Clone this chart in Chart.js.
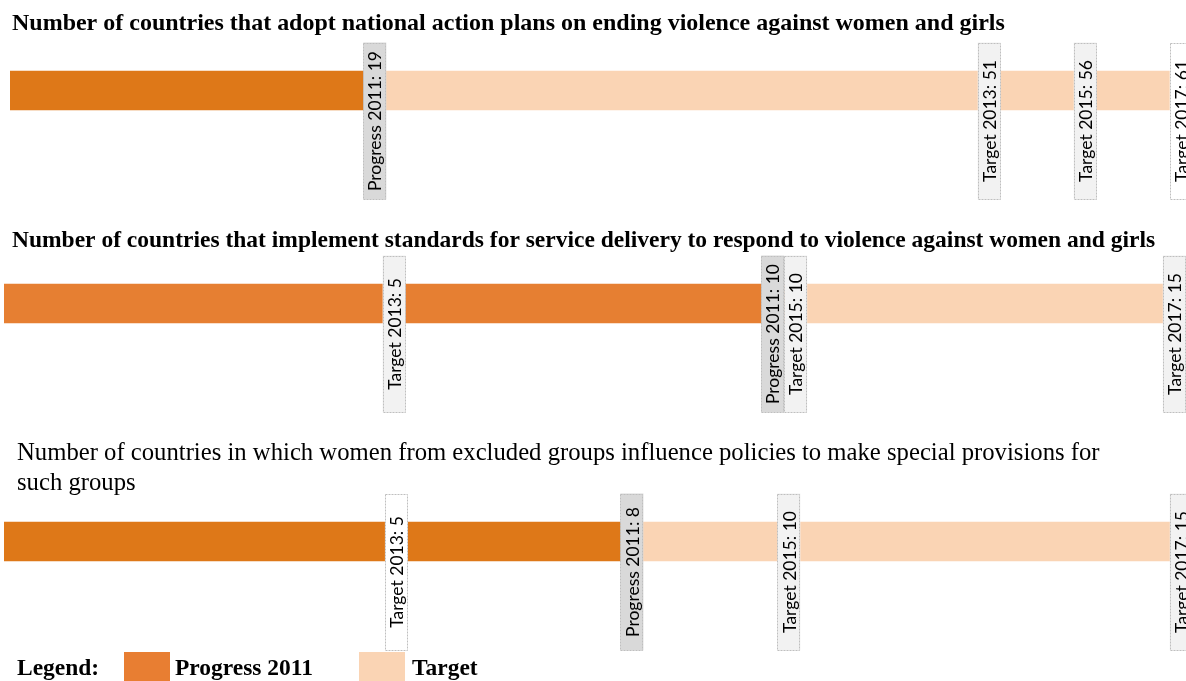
<!DOCTYPE html>
<html><head><meta charset="utf-8">
<script src="https://cdn.jsdelivr.net/npm/chart.js@4/dist/chart.umd.min.js"></script>
<style>
html,body{margin:0;padding:0;background:#fff;width:1186px;height:681px;overflow:hidden;position:relative}
canvas{position:absolute;left:0;display:block}
</style></head><body>
<canvas id="c1" width="1186" height="215" style="top:0"></canvas>
<canvas id="c2" width="1186" height="215" style="top:215px"></canvas>
<canvas id="c3" width="1186" height="251" style="top:430px"></canvas>
<script>
// ---------- DATA ----------
const title1 = ['Number of countries that adopt national action plans on ending violence against women and girls'];
const title2 = ['Number of countries that implement standards for service delivery to respond to violence against women and girls'];
const title3 = ['Number of countries in which women from excluded groups influence policies to make special provisions for', 'such groups'];
const progressLabel = 'Progress 2011';
const targetLabel = 'Target';
const targetYears = ['2013', '2015', '2017'];
const progressValues = [19, 10, 8];
const targets1 = [51, 56, 61];
const targets2 = [5, 10, 15];
const targets3 = [5, 10, 15];
const legendTitle = 'Legend:';

// ---------- STYLE ----------
const SERIF = '"Liberation Serif", serif';
const SANS = 'Lato, "Liberation Sans", sans-serif';
const peach = '#FAD4B4';
const panels = [
  {id:'c1', titles:title1, targets:targets1, progress:progressValues[0], xMax:61.25, padL:10, padT:60, padB:94,
   titleX:12, baselines:[30], titleW:[993], weight:'bold', orange:'#DE7818', boxOff:-48,
   targetFills:['#F2F2F2','#F2F2F2','#FFFFFF']},
  {id:'c2', titles:title2, targets:targets2, progress:progressValues[1], xMax:15.15, padL:4, padT:60, padB:98,
   titleX:12, baselines:[32], titleW:[1143], weight:'bold', orange:'#E67F32', boxOff:-48,
   targetFills:['#F2F2F2','#F2F2F2','#F2F2F2']},
  {id:'c3', titles:title3, targets:targets3, progress:progressValues[2], xMax:15.06, padL:4, padT:80, padB:108,
   titleX:17, baselines:[30,60], titleW:[1083], weight:'normal', orange:'#DE7818', boxOff:-48,
   targetFills:['#FFFFFF','#F2F2F2','#F2F2F2'], legend:true}
];

const mctx = document.createElement('canvas').getContext('2d');
function fitSize(text, weight, family, width){
  mctx.font = weight + ' 100px ' + family;
  return 100 * width / mctx.measureText(text).width;
}
const labelSize = fitSize('Progress 2011: 19', 'normal', SANS, 140);
const legendSize = fitSize(progressLabel, 'bold', SERIF, 138);

const panelPlugin = {
  id: 'panel',
  afterDatasetsDraw(chart, args, o){
    const ctx = chart.ctx;
    const xs = chart.scales.x, ys = chart.scales.y;
    const cy = ys.getPixelForValue(0);
    // titles
    ctx.save();
    ctx.fillStyle = '#000';
    ctx.textBaseline = 'alphabetic';
    ctx.textAlign = 'left';
    ctx.font = o.weight + ' ' + o.titleSize.toFixed(2) + 'px ' + SERIF;
    o.titles.forEach((t, i) => ctx.fillText(t, o.titleX, o.baselines[i]));
    ctx.restore();
    // markers
    const W = 23, H = 157;
    const groups = [];
    o.markers.forEach(m => {
      const g = groups.find(g => g.value === m.value);
      if (g) g.items.push(m); else groups.push({value:m.value, items:[m]});
    });
    groups.sort((a,b) => a.value - b.value);
    let prevRight = -Infinity;
    groups.forEach(g => {
      let left = xs.getPixelForValue(g.value) - W * g.items.length / 2;
      if (left < prevRight) left = prevRight;
      g.items.forEach(m => {
        const top = cy + o.boxOff;
        ctx.save();
        ctx.fillStyle = m.fill;
        ctx.fillRect(left, top, W, H);
        ctx.setLineDash([2, 1]);
        ctx.strokeStyle = '#BFBFBF';
        ctx.lineWidth = 1;
        ctx.strokeRect(Math.round(left) + 0.5, Math.round(top) + 0.5, W - 1, H - 1);
        ctx.translate(left + W / 2, top + H / 2);
        ctx.rotate(-Math.PI / 2);
        ctx.fillStyle = '#000';
        ctx.font = 'normal ' + labelSize.toFixed(2) + 'px ' + SANS;
        ctx.textAlign = 'center';
        ctx.textBaseline = 'middle';
        ctx.fillText(m.label, 0, 1);
        ctx.restore();
        left += W;
      });
      prevRight = left;
    });
    // legend
    if (o.legend) {
      const by = chart.height - 29;
      const base = chart.height - 6;
      ctx.save();
      ctx.fillStyle = '#000';
      ctx.textBaseline = 'alphabetic';
      ctx.font = 'bold ' + legendSize.toFixed(2) + 'px ' + SERIF;
      ctx.fillText(legendTitle, 17, base);
      const items = [{c:'#E87E32', label:progressLabel, bx:124, tx:175},
                     {c:peach, label:targetLabel, bx:359, tx:412}];
      items.forEach(it => {
        ctx.fillStyle = it.c;
        ctx.fillRect(it.bx, by, 46, 29);
        ctx.fillStyle = '#000';
        ctx.fillText(it.label, it.tx, base);
      });
      ctx.restore();
    }
  }
};

panels.forEach(p => {
  const tSize = fitSize(p.titles[0], p.weight, SERIF, p.titleW[0]);
  const markers = [{value:p.progress, label:progressLabel + ': ' + p.progress, fill:'#D9D9D9', order:0}];
  p.targets.forEach((v, i) => markers.push({value:v, label:targetLabel + ' ' + targetYears[i] + ': ' + v, fill:p.targetFills[i], order:1}));
  markers.sort((a,b) => a.value - b.value || a.order - b.order);
  const maxTarget = Math.max(...p.targets);
  new Chart(document.getElementById(p.id), {
    type: 'bar',
    data: {
      labels: [''],
      datasets: [
        {label: progressLabel, data: [[0, p.progress]], backgroundColor: p.orange, barThickness: 39, grouped: false, borderWidth: 0},
        {label: targetLabel, data: [[p.progress, maxTarget]], backgroundColor: peach, barThickness: 39, grouped: false, borderWidth: 0}
      ]
    },
    options: {
      indexAxis: 'y',
      responsive: false,
      animation: false,
      layout: {padding: {left: p.padL, right: 0, top: p.padT, bottom: p.padB}},
      scales: {
        x: {type: 'linear', min: 0, max: p.xMax, display: false},
        y: {display: false}
      },
      plugins: {
        legend: {display: false},
        tooltip: {enabled: false},
        title: {display: false},
        panel: {titles: p.titles, titleX: p.titleX, baselines: p.baselines, weight: p.weight,
                titleSize: tSize, markers: markers, boxOff: p.boxOff, legend: !!p.legend}
      }
    },
    plugins: [panelPlugin]
  });
});
</script>
</body></html>
